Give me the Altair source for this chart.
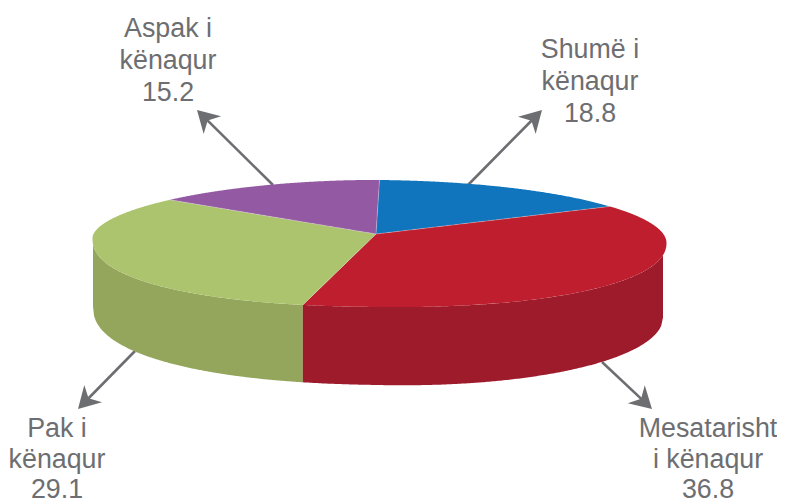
import altair as alt
import numpy as np
import pandas as pd

# Labels and printed values
categories = ["Shumë i kënaqur", "Mesatarisht i kënaqur", "Pak i kënaqur", "Aspak i kënaqur"]
values = [18.8, 36.8, 29.1, 15.2]
# Slice extents as they appear on the tilted disc, degrees clockwise from the top
drawn_span = [53.4, 142.1, 117.6, 46.9]
top_colors = ["#1075bc", "#be1e2d", "#abc46d", "#9359a3"]
wall_colors = {"Mesatarisht i kënaqur": "#9e1b2c", "Pak i kënaqur": "#94a55c"}

label_lines = [
    ("Shumë i", 590, 58), ("kënaqur", 590, 90), ("18.8", 590, 122),
    ("Aspak i", 168, 37), ("kënaqur", 168, 69), ("15.2", 168, 101),
    ("Pak i", 57, 437), ("kënaqur", 57, 468), ("29.1", 57, 498),
    ("Mesatarisht", 708, 437), ("i kënaqur", 708, 468), ("36.8", 708, 498),
]
arrow_start = [(468, 185), (273, 185), (135, 351), (602, 362)]
arrow_tip = [(542, 110), (197, 110), (78, 409), (652, 409)]

GREY = "#6d6e71"
FONT = "Liberation Sans"
apex = (376.0, 234.0)


def bulge(s, p):
    return (1 - np.clip(np.abs(s), 0, 1) ** p) ** (1 / p)


def top_back_y(s):
    p = np.where(s < 0, 1.85, 2.0)
    return 240.5 - 60.5 * bulge(s, p) + 2.5 * s


def top_front_y(x):
    s = (np.asarray(x, dtype=float) - 379.5) / 287
    p = np.where(s < 0, 2.3, 2.15)
    return 240.5 + 66.5 * bulge(s, p) + 2.5 * s


def top_rim(t):
    t = np.asarray(t, dtype=float)
    s, c = np.sin(t), np.cos(t)
    x = 379.5 + 287 * s
    return x, np.where(c >= 0, top_back_y(s), top_front_y(x))


def bottom_y(x):
    s = (np.asarray(x, dtype=float) - 378) / 285
    p = np.where(s < 0, 2.3, 2.0)
    tilt = np.where(s < 0, 4.5, 6.5)
    return 311 + 74 * bulge(s, p) + tilt * s


def band_rows(points, name):
    """Upper and lower edge of a convex polygon at each vertex x."""
    pts = np.array(points)
    xs = sorted(set(np.round(pts[:, 0], 3)))
    closed = np.vstack([pts, pts[0]])
    rows = []
    for x in xs:
        ys = []
        for (x0, y0), (x1, y1) in zip(closed[:-1], closed[1:]):
            lo, hi = min(x0, x1), max(x0, x1)
            if lo - 1e-3 <= x <= hi + 1e-3:
                if abs(x1 - x0) < 1e-6:
                    ys += [y0, y1]
                else:
                    ys.append(y0 + (y1 - y0) * (x - x0) / (x1 - x0))
        rows.append({"name": name, "x": float(x), "y": min(ys), "y2": max(ys)})
    return rows


edges = np.radians(np.concatenate([[0], np.cumsum(drawn_span)]))
edges[-1] = 2 * np.pi
slice_rows, seam_rows = [], []
for i, name in enumerate(categories):
    ts = np.linspace(edges[i], edges[i + 1], 180)
    ax, ay = top_rim(ts)
    slice_rows += band_rows([apex] + list(zip(ax, ay)), name)
    ex, ey = top_rim(edges[i])
    seam_rows += [
        {"seam": i, "o": 0, "x": apex[0], "y": apex[1]},
        {"seam": i, "o": 1, "x": float(ex), "y": float(ey)},
    ]
slices = pd.DataFrame(slice_rows)
seams = pd.DataFrame(seam_rows)

split_x = float(top_rim(edges[2])[0])
wall_rows = []
for name, lo, hi in [("Pak i kënaqur", 93.0, split_x), ("Mesatarisht i kënaqur", split_x, 663.0)]:
    for x in np.linspace(lo, hi, 200):
        wall_rows.append({"name": name, "x": float(x), "y": float(top_front_y(x)), "y2": float(bottom_y(x))})
walls = pd.DataFrame(wall_rows)

xs = alt.Scale(domain=[8, 777], nice=False, zero=False)
ys = alt.Scale(domain=[504, 8], nice=False, zero=False)
X = alt.X("x:Q", scale=xs, axis=None)
Y = alt.Y("y:Q", scale=ys, axis=None)

arrow_rows, head_rows = [], []
for i, ((x0, y0), (x1, y1)) in enumerate(zip(arrow_start, arrow_tip)):
    dx, dy = x1 - x0, y1 - y0
    n = np.hypot(dx, dy)
    arrow_rows += [
        {"a": i, "o": 0, "x": x0, "y": y0},
        {"a": i, "o": 1, "x": x1 - dx / n * 14, "y": y1 - dy / n * 14},
    ]
    head_rows.append({"x": x1, "y": y1, "angle": float(np.degrees(np.arctan2(dx, -dy)) % 360)})

arrows = alt.Chart(pd.DataFrame(arrow_rows)).mark_line(color=GREY, strokeWidth=2.6).encode(
    x=X, y=Y, detail="a:N", order="o:Q"
)
heads = alt.Chart(pd.DataFrame(head_rows)).mark_point(
    shape="M0,0 L0.62,1.08 L0,0.75 L-0.62,1.08 Z", filled=True, opacity=1, size=1600, color=GREY, strokeWidth=0
).encode(x=X, y=Y, angle=alt.Angle("angle:Q", scale=None))

wall_layer = alt.Chart(walls).mark_area(orient="vertical").encode(
    x=X, y=Y, y2="y2:Q",
    color=alt.Color("name:N", legend=None,
                    scale=alt.Scale(domain=list(wall_colors), range=list(wall_colors.values()))),
)
top_layer = alt.Chart(slices).mark_area(orient="vertical").encode(
    x=X, y=Y, y2="y2:Q",
    color=alt.Color("name:N", legend=None, scale=alt.Scale(domain=categories, range=top_colors)),
)
seam_layer = alt.Chart(seams).mark_line(color="#ffffff", strokeWidth=0.8, opacity=0.35).encode(
    x=X, y=Y, detail="seam:N", order="o:Q"
)
text_layer = alt.Chart(pd.DataFrame(label_lines, columns=["t", "x", "y"])).mark_text(
    font=FONT, fontSize=26.8, color=GREY, align="center", baseline="alphabetic"
).encode(x=X, y=Y, text="t:N")

chart = (
    alt.layer(arrows, heads, wall_layer, top_layer, seam_layer, text_layer)
    .resolve_scale(color="independent")
    .properties(width=769, height=496, padding=0, autosize=alt.AutoSizeParams(type="none"))
    .configure_view(stroke=None)
)
chart.save("out.html", embed_options={"renderer": "svg", "actions": False})
